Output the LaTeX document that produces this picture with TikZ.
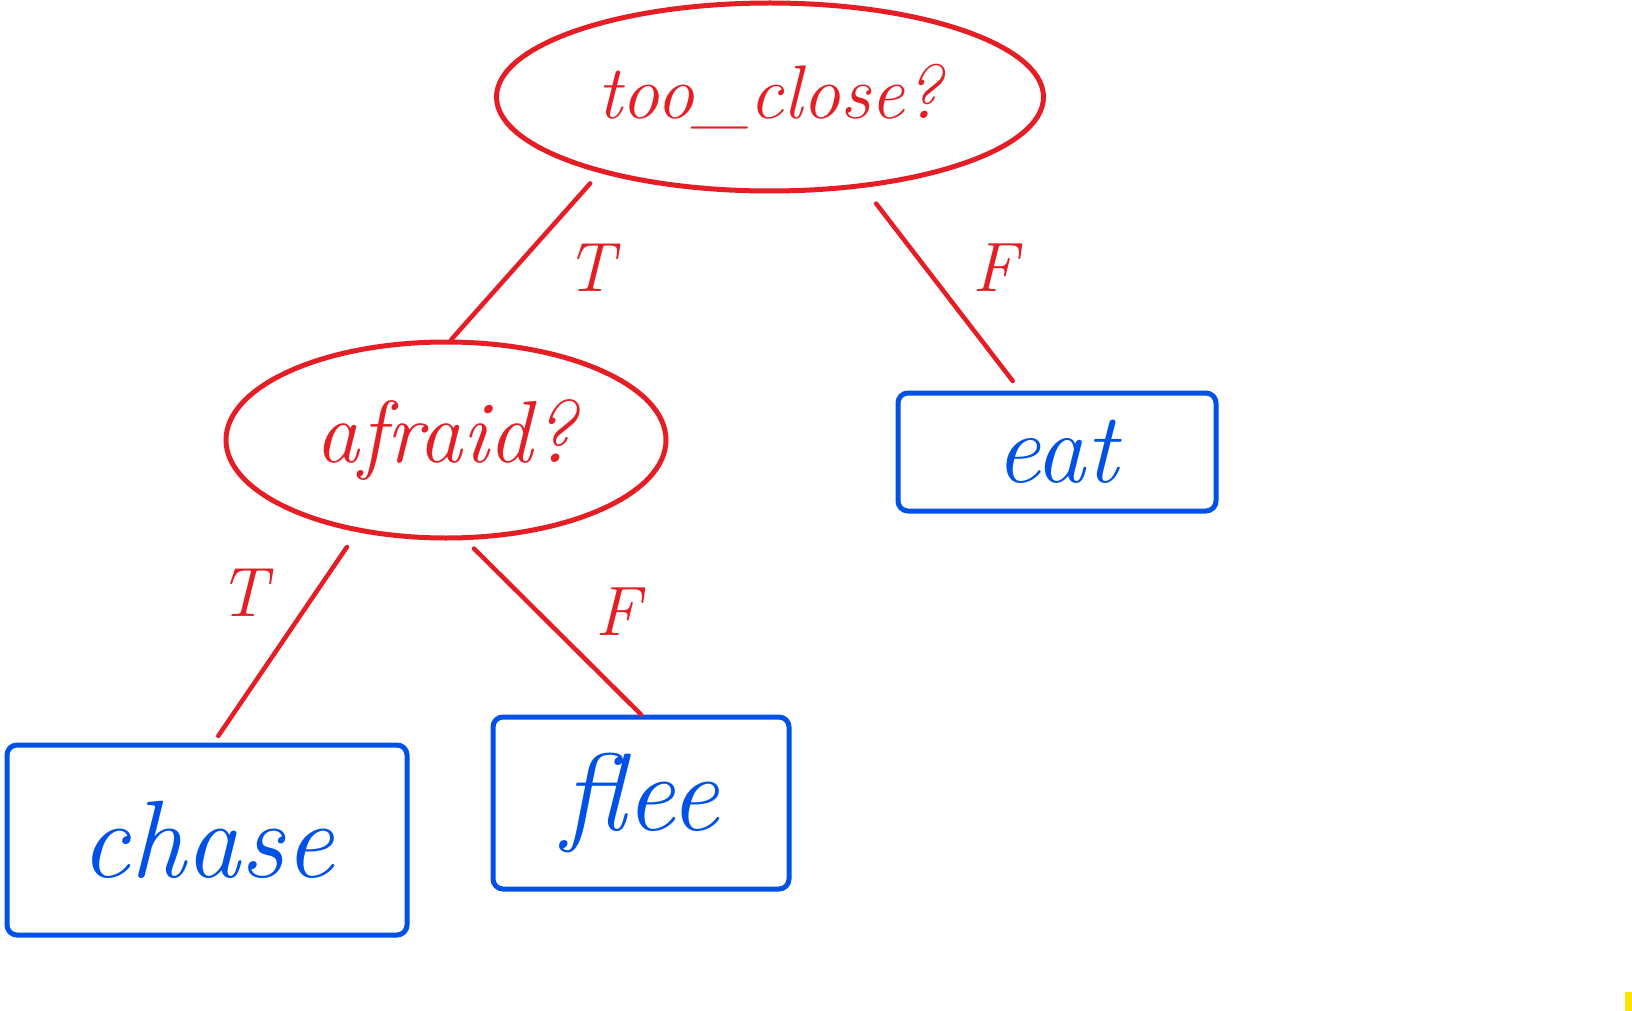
\documentclass[tikz,border=0pt]{standalone}
\usetikzlibrary{shapes.geometric}
\definecolor{penred}{RGB}{228,30,36}
\definecolor{penblue}{RGB}{0,82,230}
\definecolor{penyellow}{RGB}{255,228,0}
\tikzset{
  question/.style={ellipse, draw=penred, text=penred, line width=5pt, inner sep=0pt, font=\fontsize{76}{80}\selectfont\itshape},
  leaf/.style={rectangle, draw=penblue, text=penblue, line width=5pt, rounded corners=10pt, inner sep=0pt, font=\fontsize{110}{120}\selectfont\itshape},
  branch/.style={draw=penred, line width=4.5pt, line cap=round},
  blabel/.style={text=penred, font=\fontsize{70}{74}\selectfont\itshape, inner sep=0pt}
}
\begin{document}
\begin{tikzpicture}[x=1pt,y=-1pt]
\useasboundingbox (0,0) rectangle (1632,1011);
\node[question, minimum width=547, minimum height=188] (top) at (770,97) {too\_close?};
\node[question, minimum width=440, minimum height=196, font=\fontsize{88}{90}\selectfont\itshape] (afraid) at (446,440) {afraid?};
\node[leaf, minimum width=318, minimum height=118, font=\fontsize{100}{100}\selectfont\itshape] (eat) at (1057,452) {eat};
\node[leaf, minimum width=400, minimum height=190] (chase) at (207,840) {chase};
\node[leaf, minimum width=296, minimum height=172] (flee) at (641,803) {flee};
\draw[branch, shorten <=14pt] (top.204) -- (afraid.87);
\draw[branch, shorten <=20pt, shorten >=12pt] (top.-44) -- (eat.121);
\draw[branch, shorten <=18pt, shorten >=8pt] (afraid.-134) -- (chase.86);
\draw[branch, shorten <=12pt] (afraid.-79) -- (flee.north);
\node[blabel] (l1) at (590,268) {T};
\node[blabel] (l2) at (995,268) {F};
\node[blabel] (l3) at (243,593) {T};
\node[blabel] (l4) at (618,612) {F};
\fill[penyellow] (1625,992) rectangle (1632,1011);
\end{tikzpicture}
\end{document}
